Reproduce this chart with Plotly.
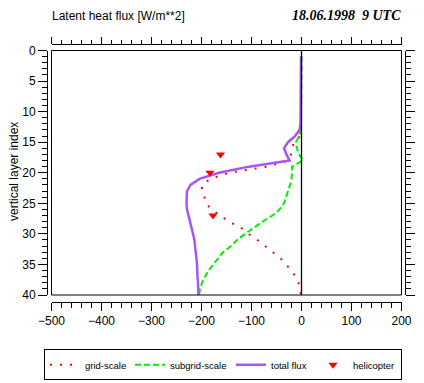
import plotly.graph_objects as go

# ---------------- data ----------------
layers = list(range(1, 41))

grid_scale = [0, 0, 0, 0, 0, 0, 0, 0, 0, 0,
              0, 0, -1, -3, -15, -19, -21, -27, -68, -145,
              -182, -199, -199, -194, -191, -180, -162, -145, -121, -106,
              -88, -72, -56, -42, -31, -20, -12, -6, -3, -1]

subgrid_scale = [0, 0, 0, 0, 0, 0, 0, 0, 0, 0,
                 0, 0, -1, -5, -11, -9, -5, 3, -19, -19,
                 -20, -23, -27, -31, -35, -44, -58, -78, -96, -113,
                 -129, -141, -157, -167, -177, -186, -193, -199, -203, -205]

total_flux = [-1, -1, -1, -1, -1, -1, -1, -1, -1, -1,
              -2, -2, -4, -13, -27, -35, -30, -24, -105, -165,
              -204, -222, -229, -230, -230, -229, -226, -222, -219, -216,
              -214, -213, -211, -210, -209, -209, -208, -207, -207, -206]

heli_flux = [-162, -183, -177]
heli_layer = [17, 20, 27]

x_ticks = [-500, -400, -300, -200, -100, 0, 100, 200]
y_ticks = [0, 5, 10, 15, 20, 25, 30, 35, 40]

title_left = "Latent heat flux [W/m**2]"
title_right = "18.06.1998  9 UTC"
y_title = "vertical layer index"

# ---------------- layout helpers ----------------
W, H = 424, 383
OFF = 8  # page body margin offset
def px(x):
    return (x - OFF) / W
def py(y):
    return 1 - (y - OFF) / H

BOX_L, BOX_R, BOX_T, BOX_B = 51.5, 401.5, 50.5, 295.0
FONT = "Liberation Sans, Arial, sans-serif"

fig = go.Figure()

fig.add_trace(go.Scatter(
    x=grid_scale, y=layers, mode="lines", name="grid-scale",
    line=dict(color="#ff0000", width=2, dash="2px,8px"),
    legendwidth=40,
))
fig.add_trace(go.Scatter(
    x=subgrid_scale, y=layers, mode="lines", name="subgrid-scale",
    line=dict(color="#00ee00", width=2, dash="6px,3px"),
    legendwidth=56,
))
fig.add_trace(go.Scatter(
    x=total_flux, y=layers, mode="lines", name="total flux",
    line=dict(color="#a855f7", width=2.5),
    legendwidth=37,
))
fig.add_trace(go.Scatter(
    x=heli_flux, y=heli_layer, mode="markers", name="helicopter",
    marker=dict(symbol="triangle-down", size=8, color="#ff0000"),
    legendwidth=43,
))
# dummy trace so the mirrored (top/right) axes get drawn
fig.add_trace(go.Scatter(x=[None], y=[None], xaxis="x2", yaxis="y2",
                         showlegend=False, hoverinfo="skip"))

common_axis = dict(showline=True, linecolor="black", linewidth=1,
                   ticks="outside", tickcolor="black", tickwidth=1,
                   showgrid=False, zeroline=False, automargin=False,
                   tickfont=dict(family=FONT, size=12, color="black"))

fig.update_layout(
    template="none",
    width=W, height=H,
    margin=dict(l=0, r=0, t=0, b=0, pad=0, autoexpand=False),
    paper_bgcolor="white", plot_bgcolor="white",
    showlegend=True,
    legend=dict(orientation="h", x=px(44), xanchor="left",
                y=py(349.3), yanchor="top",
                bordercolor="black", borderwidth=1,
                font=dict(family=FONT, size=9.5, color="black"),
                bgcolor="white", tracegroupgap=0),
    xaxis=dict(domain=[px(BOX_L), px(BOX_R)], range=[-500, 200],
               anchor="free", position=py(302), side="bottom",
               tickvals=x_ticks, ticklen=8,
               minor=dict(dtick=20, ticklen=5, ticks="outside",
                          tickcolor="black", showgrid=False),
               **common_axis),
    xaxis2=dict(domain=[px(BOX_L), px(BOX_R)], range=[-500, 200],
                overlaying="x", matches="x",
                anchor="free", position=py(44), side="top",
                tickvals=x_ticks, ticklen=7, showticklabels=False,
                minor=dict(dtick=20, ticklen=4, ticks="outside",
                           tickcolor="black", showgrid=False),
                **common_axis),
    yaxis=dict(domain=[py(BOX_B), py(BOX_T)], range=[40, 0],
               anchor="free", position=px(47), side="left",
               tickvals=y_ticks, ticklen=9,
               minor=dict(dtick=1, ticklen=5, ticks="outside",
                          tickcolor="black", showgrid=False),
               **common_axis),
    yaxis2=dict(domain=[py(BOX_B), py(BOX_T)], range=[40, 0],
                overlaying="y", matches="y",
                anchor="free", position=px(405), side="right",
                tickvals=y_ticks, ticklen=9, showticklabels=False,
                minor=dict(dtick=1, ticklen=5, ticks="outside",
                           tickcolor="black", showgrid=False),
                **common_axis),
    shapes=[
        dict(type="rect", xref="paper", yref="paper",
             x0=px(BOX_L), x1=px(BOX_R), y0=py(BOX_B), y1=py(BOX_T),
             line=dict(color="black", width=1), layer="above"),
        dict(type="line", xref="x", yref="y", x0=0, x1=0, y0=0, y1=40,
             line=dict(color="black", width=1.3), layer="above"),
    ],
    annotations=[
        dict(text=title_left, xref="paper", yref="paper",
             x=px(50), y=py(16), xanchor="left", yanchor="middle",
             showarrow=False, font=dict(family=FONT, size=12, color="black")),
        dict(text="<b><i>" + title_right + "</i></b>", xref="paper", yref="paper",
             x=px(403), y=py(16), xanchor="right", yanchor="middle",
             showarrow=False,
             font=dict(family="Liberation Serif, Times New Roman, serif", size=14, color="black")),
        dict(text=y_title, xref="paper", yref="paper",
             x=px(14), y=py(172), xanchor="center", yanchor="middle",
             textangle=-90, showarrow=False,
             font=dict(family=FONT, size=12, color="black")),
    ],
)

fig.write_html("out.html")
